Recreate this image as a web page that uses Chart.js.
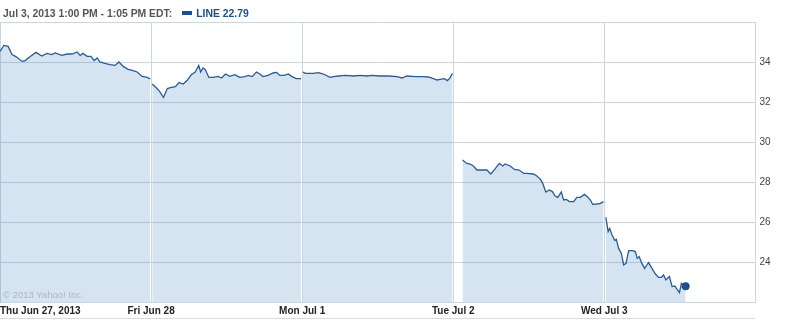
<!DOCTYPE html>
<html>
<head>
<meta charset="utf-8">
<script src="https://cdn.jsdelivr.net/npm/chart.js@4.4.0/dist/chart.umd.min.js"></script>
<style>
  body { margin: 0; background: #fff; }
  #wrap { position: relative; width: 803px; height: 320px; }
  #head { position: absolute; left: 3px; top: 8px; font: bold 10.4px "Liberation Sans", Arial, sans-serif; color: #555; white-space: nowrap; }
  #head .key { display: inline-block; width: 10px; height: 4px; background: #1c4f8c; margin: 0 4px 2px 10px; vertical-align: middle; }
  #head .val { color: #1c4f8c; }
  #copy { position: absolute; left: 3px; top: 289px; font: 9.5px "Liberation Sans", Arial, sans-serif; color: #aab6c1; }
  #foot { position: absolute; left: 0; top: 318px; width: 755px; height: 1px; background: #dadada; }
</style>
</head>
<body>
<div id="wrap">
  <canvas id="chart" width="803" height="320"></canvas>
  <div id="head">Jul 3, 2013 1:00 PM - 1:05 PM EDT:<span class="key"></span><span class="val">LINE 22.79</span></div>
  <div id="copy">© 2013 Yahoo! Inc.</div>
  <div id="foot"></div>
</div>
<script>
var dayLabels = ["Thu Jun 27, 2013", "Fri Jun 28", "Mon Jul 1", "Tue Jul 2", "Wed Jul 3"];
var sessionMinutes = 390;

// minutes after the 9:30 open, and price
var thuMin = [0,10,21,31,41,57,65,78,93,108,121,134,142,160,173,186,199,207,214,225,235,243,251,258,271,284,297,307,318,331,344,354,367,380,388];
var thuPx = [34.53,34.83,34.78,34.37,34.27,34.03,34.07,34.28,34.48,34.30,34.43,34.37,34.45,34.33,34.40,34.40,34.50,34.33,34.43,34.28,34.28,34.07,34.20,34.00,33.93,33.87,33.83,34.00,33.78,33.63,33.57,33.50,33.28,33.23,33.15];

var friMin = [3,14,22,32,42,52,63,72,83,94,104,114,123,128,134,140,149,160,173,182,192,203,216,229,242,251,261,272,281,289,302,315,324,332,344,354,364,375,387];
var friPx = [32.90,32.70,32.53,32.23,32.67,32.73,32.77,32.97,32.90,33.10,33.37,33.50,33.83,33.50,33.70,33.62,33.23,33.23,33.28,33.20,33.40,33.28,33.37,33.23,33.27,33.33,33.27,33.50,33.40,33.27,33.33,33.45,33.48,33.33,33.33,33.40,33.27,33.17,33.17];

var monMin = [2,8,29,42,55,72,81,94,111,133,150,167,180,201,223,245,258,270,292,313,326,339,348,356,367,375,382,388];
var monPx = [33.50,33.43,33.43,33.47,33.40,33.23,33.27,33.30,33.33,33.30,33.33,33.30,33.33,33.30,33.30,33.27,33.20,33.30,33.27,33.27,33.25,33.17,33.10,33.13,33.17,33.07,33.22,33.43];

var tueMin = [24,35,44,52,61,74,87,97,107,119,128,134,147,158,170,182,190,207,216,225,231,239,248,256,263,270,279,285,292,300,311,319,328,339,348,354,360,371,380,388];
var tuePx = [29.10,28.93,28.90,28.80,28.60,28.60,28.60,28.40,28.63,28.93,28.80,28.90,28.80,28.63,28.60,28.43,28.43,28.40,28.30,28.13,27.93,27.50,27.60,27.52,27.30,27.23,27.50,27.10,27.13,27.02,27.02,27.23,27.23,27.38,27.23,27.10,26.88,26.90,26.93,27.02];

var wedMin = [4,10,14,20,27,31,37,44,50,56,63,73,80,85,90,97,104,110,114,123,132,140,147,153,159,168,175,182,188,194,199,210];
var wedPx = [26.23,25.52,25.68,25.35,25.07,25.13,24.68,24.43,23.85,23.93,24.57,24.57,24.52,24.18,24.27,23.93,23.68,23.85,23.97,23.68,23.40,23.23,23.23,23.35,23.10,23.27,22.77,22.80,22.63,22.47,22.93,22.79];

var yMin = 22, yMax = 36, yStep = 2;

var days = [[thuMin, thuPx], [friMin, friPx], [monMin, monPx], [tueMin, tuePx], [wedMin, wedPx]];
var lineColor = "#285c94";
var gridColor = "#c9d7e1";

var datasets = days.map(function (d, i) {
  var pts = d[0].map(function (m, j) { return { x: i * sessionMinutes + m, y: d[1][j] }; });
  var last = i === days.length - 1;
  return {
    data: pts,
    borderColor: lineColor,
    borderWidth: 1.3,
    backgroundColor: "rgba(45,120,180,0.2)",
    fill: "start",
    tension: 0,
    clip: 6,
    pointRadius: function (ctx) { return last && ctx.dataIndex === pts.length - 1 ? 4 : 0; },
    pointBackgroundColor: "#1c4f8c",
    pointBorderWidth: 0
  };
});

new Chart(document.getElementById("chart"), {
  type: "line",
  data: { datasets: datasets },
  options: {
    responsive: false,
    animation: false,
    layout: { autoPadding: false, padding: { top: 22, right: 28.5, bottom: 0, left: 0 } },
    plugins: { legend: { display: false }, tooltip: { enabled: false } },
    scales: {
      x: {
        type: "linear",
        min: 0,
        max: dayLabels.length * sessionMinutes,
        afterBuildTicks: function (scale) {
          var t = [];
          for (var i = 0; i <= dayLabels.length; i++) t.push({ value: i * sessionMinutes });
          scale.ticks = t;
        },
        grid: { color: gridColor, drawTicks: false },
        border: { color: gridColor },
        ticks: {
          autoSkip: false,
          maxRotation: 0,
          align: "inner",
          padding: 0,
          color: "#222",
          font: { family: "Liberation Sans", size: 10, weight: "bold", lineHeight: 1.8 },
          callback: function (v) { return dayLabels[Math.round(v / sessionMinutes)] || ""; }
        }
      },
      y: {
        position: "right",
        min: yMin,
        max: yMax,
        grid: { color: gridColor, drawTicks: false },
        border: { color: gridColor },
        ticks: {
          stepSize: yStep,
          padding: 4,
          color: "#444",
          font: { family: "Liberation Sans", size: 10 },
          callback: function (v) { return (v === yMin || v === yMax) ? "" : v; }
        }
      }
    }
  }
});
</script>
</body>
</html>
